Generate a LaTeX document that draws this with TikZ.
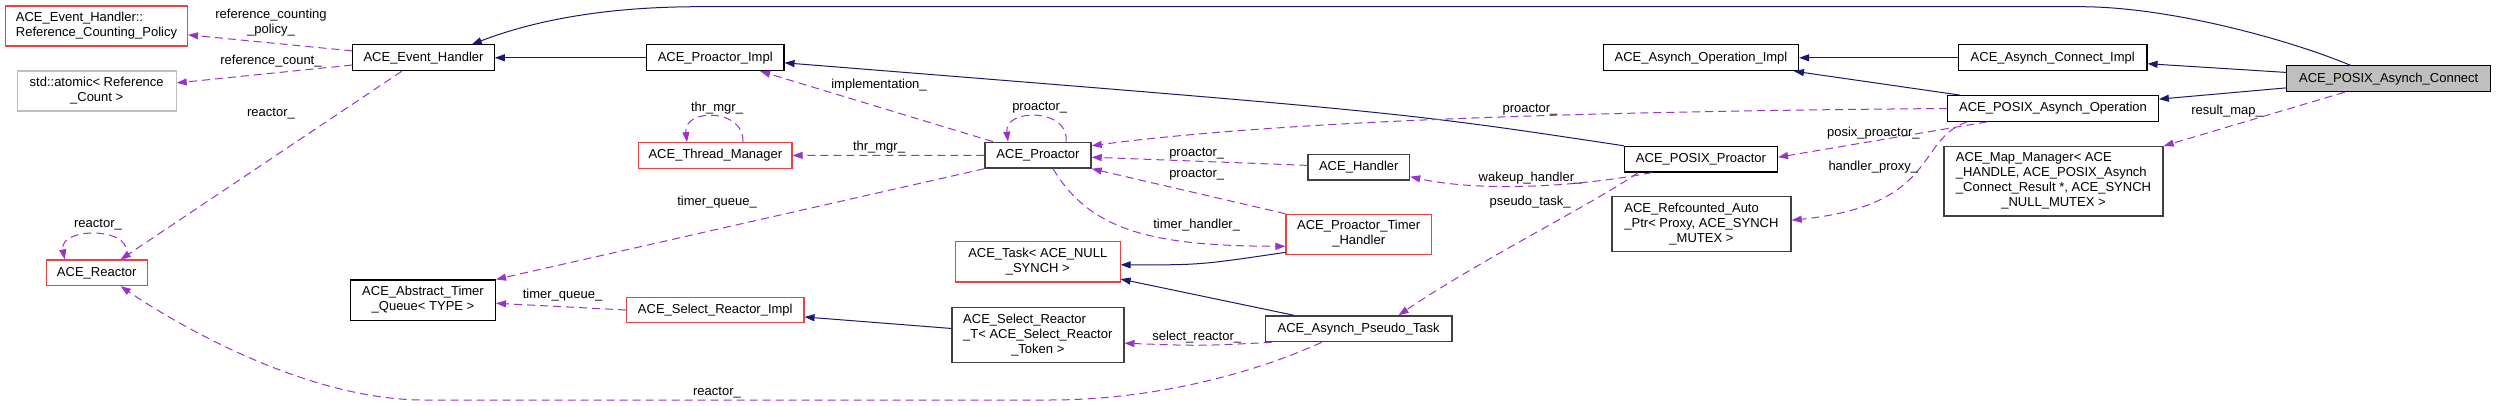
\documentclass[tikz,border=0pt]{standalone}
\usepackage{fontspec}
\setmainfont{Liberation Sans}
\usetikzlibrary{arrows.meta}
\definecolor{edgeblue}{RGB}{25,25,112}
\definecolor{edgepurple}{RGB}{154,50,205}
\definecolor{boxred}{RGB}{250,60,60}
\definecolor{boxgrey}{RGB}{191,191,191}
\definecolor{boxdark}{RGB}{64,64,64}
\newcommand{\classtext}[2]{\begin{tabular}{@{}l@{}}#1\\\multicolumn{1}{@{}c@{}}{#2}\end{tabular}}
\begin{document}
\begin{tikzpicture}[x=1pt,y=-1pt,>={Triangle[length=10pt,width=7pt]},
	cbox/.style={draw=black,line width=1.1pt,rectangle,inner sep=0pt,minimum height=25.7pt,font=\fontsize{13}{15}\selectfont},
	redbox/.style={cbox,draw=boxred},
	greybox/.style={cbox,draw=boxgrey},
	darkbox/.style={cbox,draw=boxdark,line width=1.4pt},
	mainbox/.style={cbox,fill=boxgrey},
	derive/.style={->,draw=edgeblue,line width=1pt},
	member/.style={->,draw=edgepurple,line width=1pt,dash pattern=on 8pt off 5pt},
	lbl/.style={font=\fontsize{13}{15}\selectfont,inner sep=0pt,align=center}]
	\fill[white] (0,0) rectangle (2496,406);
	\useasboundingbox (0,0) rectangle (2496,406);
	\node[redbox,minimum width=182pt,minimum height=40pt] (rcp) at (96.5,26) {\classtext{ACE\_Event\_Handler::}{Reference\_Counting\_Policy}};
	\node[greybox,minimum width=159pt,minimum height=40pt] (atomic) at (96.7,91) {\classtext{std::atomic< Reference}{\_Count >}};
	\node[cbox,minimum width=141.5pt] (eh) at (423.5,57.8) {ACE\_Event\_Handler};
	\node[redbox,minimum width=101.3pt] (reactor) at (96.7,272.8) {ACE\_Reactor};
	\node[cbox,minimum width=137.6pt] (pimpl) at (715.2,57.8) {ACE\_Proactor\_Impl};
	\node[redbox,minimum width=153.2pt] (thrmgr) at (715.4,155.5) {ACE\_Thread\_Manager};
	\node[cbox,minimum width=145pt,minimum height=40.7pt] (timerq) at (423,300.3) {\classtext{ACE\_Abstract\_Timer}{\_Queue< TYPE >}};
	\node[redbox,minimum width=177.4pt] (selimpl) at (715.3,310) {ACE\_Select\_Reactor\_Impl};
	\node[darkbox,minimum width=106pt] (proactor) at (1038,155.2) {ACE\_Proactor};
	\node[redbox,minimum width=164.5pt,minimum height=40.3pt] (task) at (1037.8,261.8) {\classtext{ACE\_Task< ACE\_NULL}{\_SYNCH >}};
	\node[darkbox,minimum width=172pt,minimum height=55pt] (selT) at (1037.8,335.2) {\classtext{ACE\_Select\_Reactor\\\_T< ACE\_Select\_Reactor}{\_Token >}};
	\node[darkbox,minimum width=101.5pt] (handler) at (1358.8,167.3) {ACE\_Handler};
	\node[redbox,minimum width=145.5pt,minimum height=40pt] (timerh) at (1358.7,234.3) {\classtext{ACE\_Proactor\_Timer}{\_Handler}};
	\node[darkbox,minimum width=186.8pt] (pseudo) at (1358.6,328.8) {ACE\_Asynch\_Pseudo\_Task};
	\node[cbox,minimum width=153pt] (pposix) at (1701,159.2) {ACE\_POSIX\_Proactor};
	\node[darkbox,minimum width=179.2pt,minimum height=55pt] (refauto) at (1701.4,224.2) {\classtext{ACE\_Refcounted\_Auto\\\_Ptr< Proxy, ACE\_SYNCH}{\_MUTEX >}};
	\node[cbox,minimum width=195pt] (opimpl) at (1701,57.8) {ACE\_Asynch\_Operation\_Impl};
	\node[cbox,minimum width=188.6pt] (connimpl) at (2052.7,57.8) {ACE\_Asynch\_Connect\_Impl};
	\node[cbox,minimum width=210.5pt] (posixop) at (2053,108.5) {ACE\_POSIX\_Asynch\_Operation};
	\node[darkbox,minimum width=219pt,minimum height=69.3pt] (mapmgr) at (2053.5,181.3) {\classtext{ACE\_Map\_Manager< ACE\\\_HANDLE, ACE\_POSIX\_Asynch\\\_Connect\_Result *, ACE\_SYNCH}{\_NULL\_MUTEX >}};
	\node[mainbox,minimum width=204pt] (connect) at (2388.7,78.8) {ACE\_POSIX\_Asynch\_Connect};
	\draw[derive] ([xshift=-38pt]connect.north) .. controls (2290,40) and (2170,6.7) .. (2080,6.7) -- (700,6.7) .. controls (600,6.7) and (530,22) .. ([xshift=-23pt]eh.north east);
	\draw[derive] (pimpl) -- (eh);
	\draw[derive] (pposix.north west) .. controls (1400,112) .. ([yshift=-5pt]pimpl.east);
	\draw[derive] (connimpl) -- (opimpl);
	\draw[derive] (posixop) -- (opimpl);
	\draw[derive] (connect) -- (connimpl);
	\draw[derive] (connect) -- (posixop);
	\draw[derive] ([yshift=2.5pt]timerh.south west) .. controls (1200,265) .. ([yshift=-3pt]task.east);
	\draw[derive] (pseudo) -- (task);
	\draw[derive] (selT) -- (selimpl);
	\draw[member] (eh) -- (rcp) node[lbl] at (271,22.5) {reference\_counting\\\_policy\_};
	\draw[member] (eh) -- (atomic) node[lbl] at (271,61) {reference\_count\_};
	\draw[member] ([xshift=-21.7pt]eh.south) -- ([xshift=24pt]reactor.north) node[lbl] at (271,114) {reactor\_};
	\draw[member] ([xshift=28pt]reactor.north) .. controls (140,226) and (58,226) .. ([xshift=-32pt]reactor.north) node[lbl] at (98,225) {reactor\_};
	\draw[member] ([xshift=27.5pt]thrmgr.north) .. controls (745,108) and (683,108) .. ([xshift=-28.4pt]thrmgr.north) node[lbl] at (717,108) {thr\_mgr\_};
	\draw[member] ([xshift=28pt]proactor.north) .. controls (1070,108) and (1004,108) .. ([xshift=-30pt]proactor.north) node[lbl] at (1039.7,108) {proactor\_};
	\draw[member] (proactor) -- (thrmgr) node[lbl] at (879,146.7) {thr\_mgr\_};
	\draw[member] ([xshift=-45pt]proactor.north) -- ([xshift=45pt]pimpl.south) node[lbl] at (879,85) {implementation\_};
	\draw[member] (proactor.south west) -- (timerq.north east) node[lbl] at (717,201.7) {timer\_queue\_};
	\draw[member] (selimpl.west) -- ([yshift=-3pt]timerq.east) node[lbl] at (562.5,295) {timer\_queue\_};
	\draw[member] (handler) -- (proactor) node[lbl] at (1196.7,153.3) {proactor\_};
	\draw[member] (timerh.north west) -- (proactor.south east) node[lbl] at (1196.7,175) {proactor\_};
	\draw[member] ([xshift=15pt]proactor.south) .. controls (1090,230) and (1150,246) .. ([yshift=-12pt]timerh.west) node[lbl] at (1196.7,225) {timer\_handler\_};
	\draw[member] (posixop.west) .. controls (1500,112) and (1250,125) .. ([yshift=9.5pt]proactor.east) node[lbl] at (1530,110) {proactor\_};
	\draw[member] ([xshift=-66pt]posixop.south) -- ([yshift=2pt]pposix.east) node[lbl] at (1873.3,133.3) {posix\_proactor\_};
	\draw[member] ([xshift=-86pt]posixop.south) .. controls (1915,140) and (1940,205) .. ([yshift=4pt]refauto.east) node[lbl] at (1873.3,167.3) {handler\_proxy\_};
	\draw[member] ([xshift=-49pt]pposix.south) .. controls (1560,190) and (1470,190) .. ([yshift=-9.4pt]handler.east) node[lbl] at (1530,178.3) {wakeup\_handler\_};
	\draw[member] ([xshift=-63pt]pposix.south) .. controls (1600,200) and (1480,260) .. ([xshift=40pt]pseudo.north) node[lbl] at (1530,201.7) {pseudo\_task\_};
	\draw[member] ([xshift=-44pt]connect.south) -- (mapmgr.north east) node[lbl] at (2227,111) {result\_map\_};
	\draw[member] ([xshift=7pt]pseudo.south west) .. controls (1200,346) .. ([yshift=-8pt]selT.east) node[lbl] at (1196.7,336.7) {select\_reactor\_};
	\draw[member] ([xshift=-37pt]pseudo.south) .. controls (1250,375) and (1150,400) .. (1050,400) -- (420,400) .. controls (300,398) and (170,320) .. ([xshift=24pt]reactor.south) node[lbl] at (717,392.7) {reactor\_};
\end{tikzpicture}
\end{document}
